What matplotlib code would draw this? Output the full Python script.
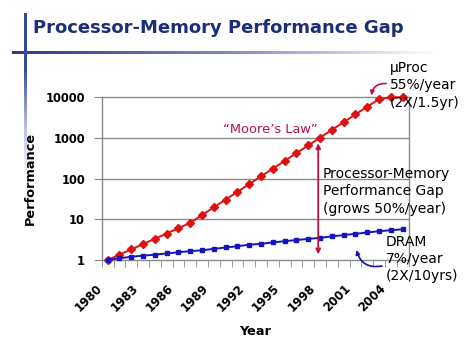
import matplotlib
matplotlib.use("Agg")
import matplotlib.pyplot as plt
import numpy as np
from matplotlib.transforms import ScaledTranslation
from matplotlib.colors import LinearSegmentedColormap

# ---- data ----
years = list(range(1980, 2006))
proc_perf = [1, 1.35, 1.82, 2.46, 3.32, 4.48, 6.05, 8.17, 12.7, 19.7, 30.5, 47.3,
             73.3, 114, 176, 273, 423, 656, 1017, 1576, 2443, 3787, 5870, 9000,
             10000, 10000]
dram_perf = [1, 1.1, 1.2, 1.28, 1.35, 1.45, 1.55, 1.65, 1.73, 1.88, 2.03, 2.18,
             2.38, 2.5, 2.7, 2.9, 3.1, 3.3, 3.5, 3.8, 4.1, 4.4, 4.75, 5.1, 5.4, 5.7]
xtick_years = [1980, 1983, 1986, 1989, 1992, 1995, 1998, 2001, 2004]
ytick_vals = [1, 10, 100, 1000, 10000]
ytick_labels = ["1", "10", "100", "1000", "10000"]

W, H = 474, 355
fig = plt.figure(figsize=(W / 100, H / 100), dpi=100)
fig.patch.set_facecolor("white")

# ---- slide decoration (pixel overlay) ----
deco = fig.add_axes([0, 0, 1, 1])
deco.set_xlim(0, W)
deco.set_ylim(H, 0)
deco.axis("off")
cmap = LinearSegmentedColormap.from_list("fade", ["#2a3890", "#8088c0", "#ffffff"])
hgrad = np.linspace(0, 1, 300).reshape(1, -1)
deco.imshow(hgrad, cmap=cmap, extent=(12, 440, 54, 51), aspect="auto",
            interpolation="bilinear", zorder=1)
vcmap = LinearSegmentedColormap.from_list("vfade", ["#3a4898", "#3a4898", "#b8bce0", "#ffffff"])
vgrad = np.linspace(0, 1, 200).reshape(-1, 1)
deco.imshow(vgrad, cmap=vcmap, extent=(23.8, 25.9, 180, 13), aspect="auto",
            interpolation="bilinear", zorder=2, origin="upper")
deco.set_xlim(0, W)
deco.set_ylim(H, 0)

deco.text(33, 28, "Processor-Memory Performance Gap", fontsize=13, fontweight="bold",
          color="#1c2d7a", ha="left", va="center")

# ---- main chart ----
ax = fig.add_axes([101.7 / W, 1 - 260 / H, (408.5 - 101.7) / W, (260 - 97.3) / H])
idx = np.arange(len(years))
ax.set_yscale("log")
ax.set_ylim(1, 10000)
ax.set_xlim(-0.5, len(years) - 0.5)

gray = "#8a8a8a"
for v in ytick_vals[1:-1]:
    ax.axhline(v, color=gray, lw=1.0, zorder=1)
for s in ax.spines.values():
    s.set_color(gray)
    s.set_linewidth(1.0)

ax.plot(idx, proc_perf, color="#e01010", lw=1.4, marker="D", markersize=4,
        markerfacecolor="#e01010", markeredgecolor="#e01010", zorder=4, clip_on=False)
ax.plot(idx, dram_perf, color="#1414c0", lw=1.4, marker="s", markersize=3,
        markerfacecolor="#1414c0", markeredgecolor="#1414c0", zorder=5, clip_on=False)

ax.set_yticks(ytick_vals)
ax.set_yticklabels(ytick_labels, fontsize=8.3, fontweight="bold")
ax.yaxis.set_minor_locator(matplotlib.ticker.NullLocator())
ax.tick_params(axis="y", which="major", length=6, color=gray, pad=6)

xt = [years.index(y) for y in xtick_years]
ax.set_xticks(xt)
ax.set_xticklabels([str(y) for y in xtick_years], fontsize=8.5, fontweight="bold",
                   rotation=45, ha="right", va="center", rotation_mode="anchor")
ax.set_xticks(np.arange(-0.5, len(years)), minor=True)
ax.tick_params(axis="x", which="major", length=0, pad=19)
ax.tick_params(axis="x", which="minor", length=5, color=gray)
for lab in ax.get_xticklabels():
    lab.set_transform(lab.get_transform() + ScaledTranslation(-0.07, 0, fig.dpi_scale_trans))

ax.set_xlabel("Year", fontsize=9.3, fontweight="bold", labelpad=8)
ax.set_ylabel("Performance", fontsize=9.3, fontweight="bold", labelpad=6)

# gap arrow
gap_x = years.index(1998) - 0.15
ax.annotate("", xy=(gap_x, 740), xytext=(gap_x, 1.38),
            arrowprops=dict(arrowstyle="<|-|>", color="#c0103f", lw=1.3,
                            mutation_scale=7, shrinkA=0, shrinkB=0), zorder=6)

ax.text(13.8, 1650, "\u201cMoore\u2019s Law\u201d", fontsize=9.4,
        color="#b3124f", ha="center", va="center")

# annotations in pixel coordinates
deco.set_zorder(10)
deco.patch.set_alpha(0)
deco.text(390, 85.5, "\u00b5Proc\n55%/year\n(2X/1.5yr)", fontsize=10, ha="left",
          va="center", linespacing=1.3, color="black")
deco.text(323, 191.5, "Processor-Memory\nPerformance Gap\n(grows 50%/year)", fontsize=10,
          ha="left", va="center", linespacing=1.3, color="black")
deco.text(386, 259, "DRAM\n7%/year\n(2X/10yrs)", fontsize=10, ha="left",
          va="center", linespacing=1.3, color="black")
deco.annotate("", xy=(371.5, 95.5), xytext=(386, 83.5),
              arrowprops=dict(arrowstyle="-|>", color="#c0103f", lw=1.2, mutation_scale=6,
                              connectionstyle="arc3,rad=0.45", shrinkA=0, shrinkB=0))
deco.annotate("", xy=(356.5, 250), xytext=(382, 266),
              arrowprops=dict(arrowstyle="-|>", color="#1414a0", lw=1.2, mutation_scale=6,
                              connectionstyle="arc3,rad=-0.45", shrinkA=0, shrinkB=0))

fig.savefig("out.png", dpi=100, facecolor="white")
